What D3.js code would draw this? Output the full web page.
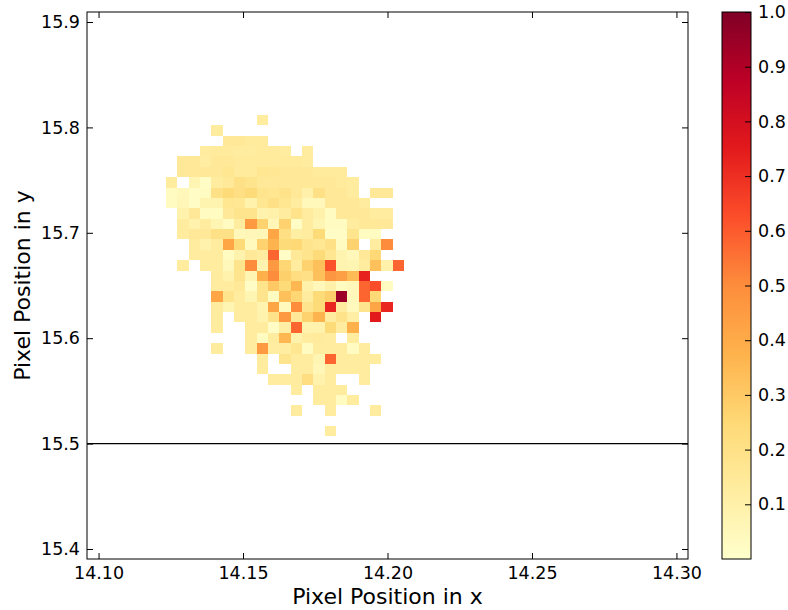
<!DOCTYPE html>
<html>
<head>
<meta charset="utf-8">
<script src="https://cdn.jsdelivr.net/npm/d3@7"></script>
<style>
  body { margin: 0; background: #fff; }
  text { font-family: "DejaVu Sans", sans-serif; fill: #000; }
</style>
</head>
<body>
<svg id="chart" width="788" height="610"></svg>
<script>
// axis ticks
const xTicks = [14.10, 14.15, 14.20, 14.25, 14.30];
const yTicks = [15.4, 15.5, 15.6, 15.7, 15.8, 15.9];
const cbTicks = [0.1, 0.2, 0.3, 0.4, 0.5, 0.6, 0.7, 0.8, 0.9, 1.0];
const xDomain = [14.096, 14.304];
const yDomain = [15.3905, 15.9095];
const refLineY = 15.5;

// histogram bins (left edge of first column, top edge of first row)
const xBinStart = 14.1234, xBinWidth = 0.00392;
const yBinTop = 15.8118, yBinHeight = 0.00984;

// normalised counts, one row per y bin (top to bottom), 0 = empty
const density = [
  [0,0,0,0,0,0,0,0,.13,0,0,0,0,0,0,0,0,0,0,0,0],
  [0,0,0,0,.13,0,0,0,0,0,0,0,0,0,0,0,0,0,0,0,0],
  [0,0,0,0,0,.15,.15,.14,.14,0,0,0,0,0,0,0,0,0,0,0,0],
  [0,0,0,.13,.14,.14,.13,.13,.14,.14,.13,0,.13,0,0,0,0,0,0,0,0],
  [0,.15,.15,.12,.15,.15,.14,.14,.14,.14,.14,.14,.13,0,0,0,0,0,0,0,0],
  [0,.15,.15,.15,.15,.17,.14,.14,.17,.16,.15,.15,.15,.14,.14,.14,0,0,0,0,0],
  [.13,0,.07,.02,.13,.15,.2,.18,.15,.15,.15,.15,.15,.15,.15,.14,.13,0,0,0,0],
  [.03,.05,.02,.03,.2,.24,.21,.24,.18,.17,.19,.15,.1,.2,.15,.15,.13,0,.15,.15,0],
  [.03,.06,.02,.08,.08,.17,.16,.09,.17,.2,.17,.13,.05,.05,.15,.15,.15,.13,0,0,0],
  [0,.09,.15,.03,.03,.15,.18,.18,.09,.1,.13,.19,.13,.1,.03,.15,.15,.15,.13,.13,0],
  [0,.13,.09,.13,.07,.03,.13,.46,.27,.06,.27,.02,.13,.07,.03,.03,.13,.15,.15,.15,0],
  [0,.13,.15,.15,.2,.2,.05,.06,.06,.42,.21,.11,.13,.24,.02,.02,.18,.03,.03,0,0],
  [0,0,.13,.09,.13,.42,.24,.04,.27,.37,.24,.25,.18,.16,.2,.03,.27,0,.13,.5,0],
  [0,0,.13,.13,.13,.03,.09,.15,.13,.58,.02,.15,.18,.24,.17,.08,.05,.15,.25,0,0],
  [0,.13,0,.13,.13,.05,.18,.5,.08,.46,.26,.13,.27,.33,.62,.08,.07,.13,.33,.1,.58],
  [0,0,0,0,.13,.09,.18,.07,.38,.5,.28,.22,.2,.33,.47,.44,.35,.73,0,0,0],
  [0,0,0,0,.13,.13,.15,.02,.18,.3,.24,.36,.1,.05,.1,.03,.05,.58,.63,.03,0],
  [0,0,0,0,.42,.18,.13,.07,.18,.03,.33,.26,.13,.24,.28,.94,.05,.58,.25,0,0],
  [0,0,0,0,.13,.07,.13,.13,.08,.42,.04,.5,.18,.24,.72,.13,.04,.18,.42,.72,0],
  [0,0,0,0,.13,0,.13,.13,.09,.19,.46,.15,.27,.37,.13,.19,.11,0,.75,0,0],
  [0,0,0,0,.13,0,0,.13,.13,.02,.11,.58,.09,.09,.24,.13,.38,0,0,0,0],
  [0,0,0,0,0,0,0,.13,.03,.13,.36,.09,.13,.14,.13,0,.13,0,0,0,0],
  [0,0,0,0,.13,0,0,.13,.46,.12,.12,.17,.03,.13,.13,.13,.03,.13,0,0,0],
  [0,0,0,0,0,0,0,0,.13,0,.18,.13,.13,.07,.58,.13,.13,.13,.13,0,0],
  [0,0,0,0,0,0,0,0,.13,0,0,.13,.13,.06,.13,.13,.13,.13,0,0,0],
  [0,0,0,0,0,0,0,0,0,.13,.13,.13,.22,.09,.13,0,0,.13,0,0,0],
  [0,0,0,0,0,0,0,0,0,0,0,.13,0,.13,.13,.13,0,0,0,0,0],
  [0,0,0,0,0,0,0,0,0,0,0,0,0,.13,.13,.03,.13,0,0,0,0],
  [0,0,0,0,0,0,0,0,0,0,0,.13,0,0,.13,0,0,0,.13,0,0],
  [0,0,0,0,0,0,0,0,0,0,0,0,0,0,0,0,0,0,0,0,0],
  [0,0,0,0,0,0,0,0,0,0,0,0,0,0,.13,0,0,0,0,0,0]
];

// YlOrRd, as matplotlib builds it
const ylorrd = ["#ffffcc","#ffeda0","#fed976","#feb24c","#fd8d3c","#fc4e2a","#e31a1c","#bd0026","#800026"];

const svg = d3.select("#chart");
const plot = { left: 87, top: 12, width: 601, height: 547 };
const cb = { left: 722, top: 12, width: 29, height: 547 };

const x = d3.scaleLinear().domain(xDomain).range([plot.left, plot.left + plot.width]);
const y = d3.scaleLinear().domain(yDomain).range([plot.top + plot.height, plot.top]);
const color = d3.scaleLinear()
  .domain(ylorrd.map((c, i) => i / (ylorrd.length - 1)))
  .range(ylorrd)
  .interpolate(d3.interpolateRgb)
  .clamp(true);

// cells
const cells = [];
density.forEach((row, j) => row.forEach((v, i) => {
  if (v > 0) cells.push({ i, j, v });
}));
svg.append("g").selectAll("rect")
  .data(cells)
  .enter()
  .append("rect")
  .attr("x", d => x(xBinStart + d.i * xBinWidth))
  .attr("y", d => y(yBinTop - d.j * yBinHeight))
  .attr("width", d => x(xBinStart + (d.i + 1) * xBinWidth) - x(xBinStart + d.i * xBinWidth))
  .attr("height", d => y(yBinTop - (d.j + 1) * yBinHeight) - y(yBinTop - d.j * yBinHeight))
  .attr("fill", d => color(d.v))
  .attr("shape-rendering", "crispEdges");

// reference line
svg.append("line")
  .attr("x1", plot.left).attr("x2", plot.left + plot.width)
  .attr("y1", y(refLineY)).attr("y2", y(refLineY))
  .attr("stroke", "#000").attr("stroke-width", 1.2);

// axes, ticks inward on all sides
const fmtX = d3.format(".2f"), fmtY = d3.format(".1f");
const tickLen = 6;
const gx = svg.append("g")
  .attr("transform", `translate(0,${plot.top + plot.height})`)
  .call(d3.axisBottom(x).tickValues(xTicks).tickFormat(fmtX).tickSizeInner(-tickLen).tickSizeOuter(0).tickPadding(8));
const gxTop = svg.append("g")
  .attr("transform", `translate(0,${plot.top})`)
  .call(d3.axisTop(x).tickValues(xTicks).tickFormat("").tickSizeInner(-tickLen).tickSizeOuter(0));
const gy = svg.append("g")
  .attr("transform", `translate(${plot.left},0)`)
  .call(d3.axisLeft(y).tickValues(yTicks).tickFormat(fmtY).tickSizeInner(-tickLen).tickSizeOuter(0).tickPadding(7));
const gyRight = svg.append("g")
  .attr("transform", `translate(${plot.left + plot.width},0)`)
  .call(d3.axisRight(y).tickValues(yTicks).tickFormat("").tickSizeInner(-tickLen).tickSizeOuter(0));
[gx, gxTop, gy, gyRight].forEach(g => {
  g.select(".domain").remove();
  g.selectAll("line").attr("stroke", "#000");
  g.selectAll("text").style("font-size", "17.5px").attr("fill", "#000");
});

svg.append("rect")
  .attr("x", plot.left).attr("y", plot.top)
  .attr("width", plot.width).attr("height", plot.height)
  .attr("fill", "none").attr("stroke", "#000").attr("stroke-width", 1);

// axis labels
svg.append("text")
  .attr("x", plot.left + plot.width / 2).attr("y", 604)
  .attr("text-anchor", "middle").style("font-size", "22px")
  .text("Pixel Position in x");
svg.append("text")
  .attr("transform", `translate(30,${plot.top + plot.height / 2}) rotate(-90)`)
  .attr("text-anchor", "middle").style("font-size", "22px")
  .text("Pixel Position in y");

// colorbar
const grad = svg.append("defs").append("linearGradient")
  .attr("id", "cbgrad").attr("x1", 0).attr("y1", 1).attr("x2", 0).attr("y2", 0);
grad.selectAll("stop").data(ylorrd).enter().append("stop")
  .attr("offset", (c, i) => i / (ylorrd.length - 1))
  .attr("stop-color", c => c);
svg.append("rect")
  .attr("x", cb.left).attr("y", cb.top)
  .attr("width", cb.width).attr("height", cb.height)
  .attr("fill", "url(#cbgrad)");
const cbScale = d3.scaleLinear().domain([0, 1]).range([cb.top + cb.height, cb.top]);
const gcb = svg.append("g")
  .attr("transform", `translate(${cb.left + cb.width},0)`)
  .call(d3.axisRight(cbScale).tickValues(cbTicks).tickFormat(fmtY).tickSizeInner(-tickLen).tickSizeOuter(0).tickPadding(7));
gcb.select(".domain").remove();
gcb.selectAll("line").attr("stroke", "#000");
gcb.selectAll("text").style("font-size", "17.5px").attr("fill", "#000");
svg.append("rect")
  .attr("x", cb.left).attr("y", cb.top)
  .attr("width", cb.width).attr("height", cb.height)
  .attr("fill", "none").attr("stroke", "#000").attr("stroke-width", 1);
</script>
</body>
</html>
